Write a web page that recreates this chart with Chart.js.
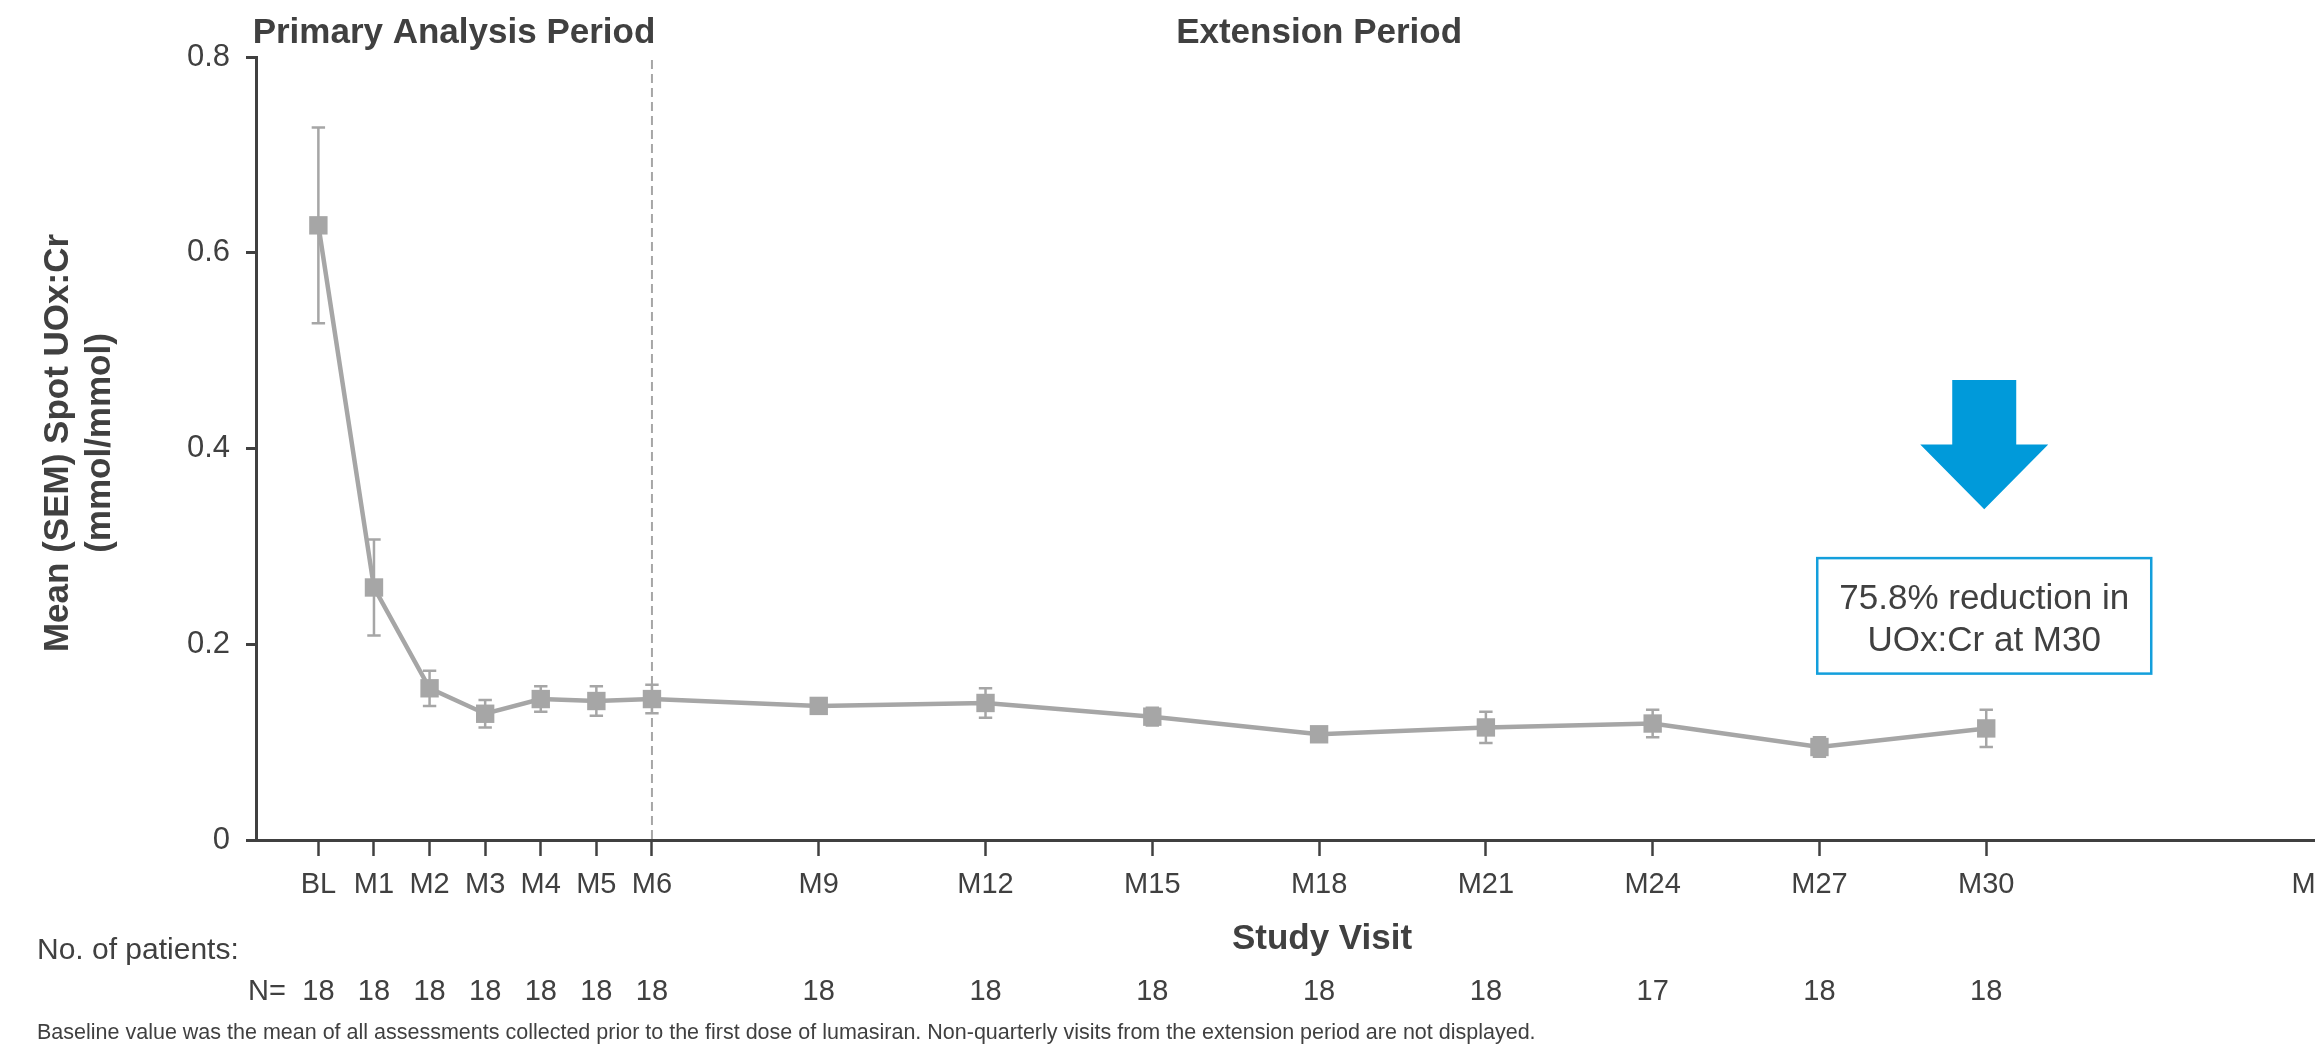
<!DOCTYPE html>
<html>
<head>
<meta charset="utf-8">
<title>Spot UOx:Cr over time</title>
<script src="https://cdn.jsdelivr.net/npm/chart.js@4.4.0/dist/chart.umd.min.js"></script>
<style>
    html, body { margin: 0; padding: 0; background: #fff; overflow: hidden; }
    #wrap { position: relative; width: 2445px; height: 1059px; }
</style>
</head>
<body>
<div id="wrap"><canvas id="myChart" width="2445" height="1059"></canvas></div>
<script>
// visits (month number, BL = 0)
const visitMonths = [0, 1, 2, 3, 4, 5, 6, 9, 12, 15, 18, 21, 24, 27, 30];
const meanValues = [0.628, 0.258, 0.155, 0.129, 0.144, 0.142, 0.144, 0.137, 0.140, 0.126, 0.108, 0.115, 0.119, 0.095, 0.114];
const semValues = [0.100, 0.049, 0.018, 0.014, 0.013, 0.015, 0.0145, 0.007, 0.015, 0.009, 0.007, 0.016, 0.014, 0.010, 0.019];
const patientCounts = [18, 18, 18, 18, 18, 18, 18, 18, 18, 18, 18, 18, 17, 18, 18];

// x axis ticks
const tickMonths = [0, 1, 2, 3, 4, 5, 6, 9, 12, 15, 18, 21, 24, 27, 30, 36];
const tickLabels = ["BL", "M1", "M2", "M3", "M4", "M5", "M6", "M9", "M12", "M15", "M18", "M21", "M24", "M27", "M30", "M36"];

const textColor = "#404040";
const seriesColor = "#a6a6a6";
const fontFamily = "'Liberation Sans', Arial, Helvetica, sans-serif";

Chart.defaults.font.family = fontFamily;
Chart.defaults.color = textColor;

const decorations = {
    id: "decorations",
    beforeDatasetsDraw(chart) {
        const ctx = chart.ctx;
        const xs = chart.scales.x;
        const ys = chart.scales.y;

        // end of primary analysis period
        ctx.save();
        ctx.strokeStyle = seriesColor;
        ctx.lineWidth = 2;
        ctx.setLineDash([9, 5]);
        let px = xs.getPixelForValue(6);
        ctx.beginPath();
        ctx.moveTo(px, chart.chartArea.top + 3);
        ctx.lineTo(px, ys.getPixelForValue(0));
        ctx.stroke();
        ctx.restore();

        // SEM error bars
        ctx.save();
        ctx.strokeStyle = seriesColor;
        ctx.lineWidth = 2.5;
        for (let i = 0; i < visitMonths.length; i++) {
            let x = xs.getPixelForValue(visitMonths[i]);
            let top = ys.getPixelForValue(meanValues[i] + semValues[i]);
            let bottom = ys.getPixelForValue(meanValues[i] - semValues[i]);
            ctx.beginPath();
            ctx.moveTo(x, top);
            ctx.lineTo(x, bottom);
            ctx.moveTo(x - 6.7, top);
            ctx.lineTo(x + 6.7, top);
            ctx.moveTo(x - 6.7, bottom);
            ctx.lineTo(x + 6.7, bottom);
            ctx.stroke();
        }
        ctx.restore();
    },
    afterDraw(chart) {
        const ctx = chart.ctx;
        const xs = chart.scales.x;
        const ys = chart.scales.y;
        const area = chart.chartArea;
        let m6 = xs.getPixelForValue(6);
        let m30 = xs.getPixelForValue(30);

        ctx.save();
        ctx.fillStyle = textColor;

        // period headers
        ctx.font = "bold 35px " + fontFamily;
        ctx.textAlign = "center";
        ctx.textBaseline = "alphabetic";
        ctx.fillText("Primary Analysis Period", (area.left + m6) / 2, 43);
        ctx.fillText("Extension Period", (m6 + m30) / 2, 43);

        // y axis title
        ctx.save();
        ctx.translate(0, 443);
        ctx.rotate(-Math.PI / 2);
        ctx.font = "bold 35px " + fontFamily;
        ctx.fillText("Mean (SEM) Spot UOx:Cr", 0, 68);
        ctx.fillText("(mmol/mmol)", 0, 110);
        ctx.restore();

        // x axis title
        ctx.font = "bold 35px " + fontFamily;
        ctx.fillText("Study Visit", 1322, 949);

        // patient numbers
        ctx.font = "30px " + fontFamily;
        ctx.textAlign = "left";
        ctx.fillText("No. of patients:", 37, 959);
        ctx.font = "29px " + fontFamily;
        ctx.textAlign = "right";
        ctx.fillText("N=", 286, 1000);
        ctx.textAlign = "center";
        for (let i = 0; i < visitMonths.length; i++) {
            ctx.fillText(String(patientCounts[i]), xs.getPixelForValue(visitMonths[i]), 1000);
        }

        // footnote
        ctx.font = "21.5px " + fontFamily;
        ctx.textAlign = "left";
        ctx.fillText("Baseline value was the mean of all assessments collected prior to the first dose of lumasiran. Non-quarterly visits from the extension period are not displayed.", 37, 1039);

        // reduction arrow
        let shaftTop = ys.getPixelForValue(0.470);
        let headTop = ys.getPixelForValue(0.404);
        let tip = ys.getPixelForValue(0.338);
        let ax = m30 - 2;
        ctx.fillStyle = "#009ada";
        ctx.beginPath();
        ctx.moveTo(ax - 32, shaftTop);
        ctx.lineTo(ax + 32, shaftTop);
        ctx.lineTo(ax + 32, headTop);
        ctx.lineTo(ax + 64, headTop);
        ctx.lineTo(ax, tip);
        ctx.lineTo(ax - 64, headTop);
        ctx.lineTo(ax - 32, headTop);
        ctx.closePath();
        ctx.fill();

        // callout box
        let boxTop = ys.getPixelForValue(0.288);
        let boxBottom = ys.getPixelForValue(0.170);
        ctx.fillStyle = "#fff";
        ctx.fillRect(ax - 167, boxTop, 334, boxBottom - boxTop);
        ctx.strokeStyle = "#139fdc";
        ctx.lineWidth = 2.5;
        ctx.strokeRect(ax - 167, boxTop, 334, boxBottom - boxTop);
        ctx.fillStyle = textColor;
        ctx.font = "35px " + fontFamily;
        ctx.textAlign = "center";
        ctx.fillText("75.8% reduction in", ax, boxTop + 51);
        ctx.fillText("UOx:Cr at M30", ax, boxTop + 93);

        ctx.restore();
    }
};

const ctx = document.getElementById("myChart").getContext("2d");
const myChart = new Chart(ctx, {
    type: "line",
    data: {
        datasets: [
            {
                label: "Mean spot UOx:Cr",
                data: visitMonths.map((m, i) => ({ x: m, y: meanValues[i] })),
                borderColor: seriesColor,
                borderWidth: 4.5,
                tension: 0,
                pointStyle: "rect",
                pointRadius: 13,
                pointBackgroundColor: seriesColor,
                pointBorderWidth: 0,
            },
        ],
    },
    options: {
        responsive: false,
        animation: false,
        devicePixelRatio: 1,
        layout: {
            padding: { left: 0, top: 57, right: 14, bottom: 0 },
        },
        plugins: {
            legend: { display: false },
            tooltip: { enabled: false },
        },
        scales: {
            x: {
                type: "linear",
                min: -1.122,
                max: 38,
                afterBuildTicks: function (scale) {
                    scale.ticks = tickMonths.map((v) => ({ value: v }));
                },
                afterFit: function (scale) {
                    scale.height = 219;
                },
                ticks: {
                    autoSkip: false,
                    maxRotation: 0,
                    padding: 12,
                    color: textColor,
                    font: { size: 29 },
                    callback: function (value) {
                        let idx = tickMonths.indexOf(value);
                        return idx >= 0 ? tickLabels[idx] : "";
                    },
                },
                grid: {
                    drawOnChartArea: false,
                    drawTicks: true,
                    tickLength: 16,
                    tickWidth: 2.5,
                    tickColor: textColor,
                },
                border: { color: textColor, width: 3 },
            },
            y: {
                min: 0,
                max: 0.8,
                afterFit: function (scale) {
                    scale.width = 256;
                },
                ticks: {
                    stepSize: 0.2,
                    padding: 16,
                    color: textColor,
                    font: { size: 31 },
                    callback: function (value) {
                        return value === 0 ? "0" : value.toFixed(1);
                    },
                },
                grid: {
                    drawOnChartArea: false,
                    drawTicks: true,
                    tickLength: 10,
                    tickWidth: 3,
                    tickColor: textColor,
                },
                border: { color: textColor, width: 3 },
            },
        },
    },
    plugins: [decorations],
});
</script>
</body>
</html>
